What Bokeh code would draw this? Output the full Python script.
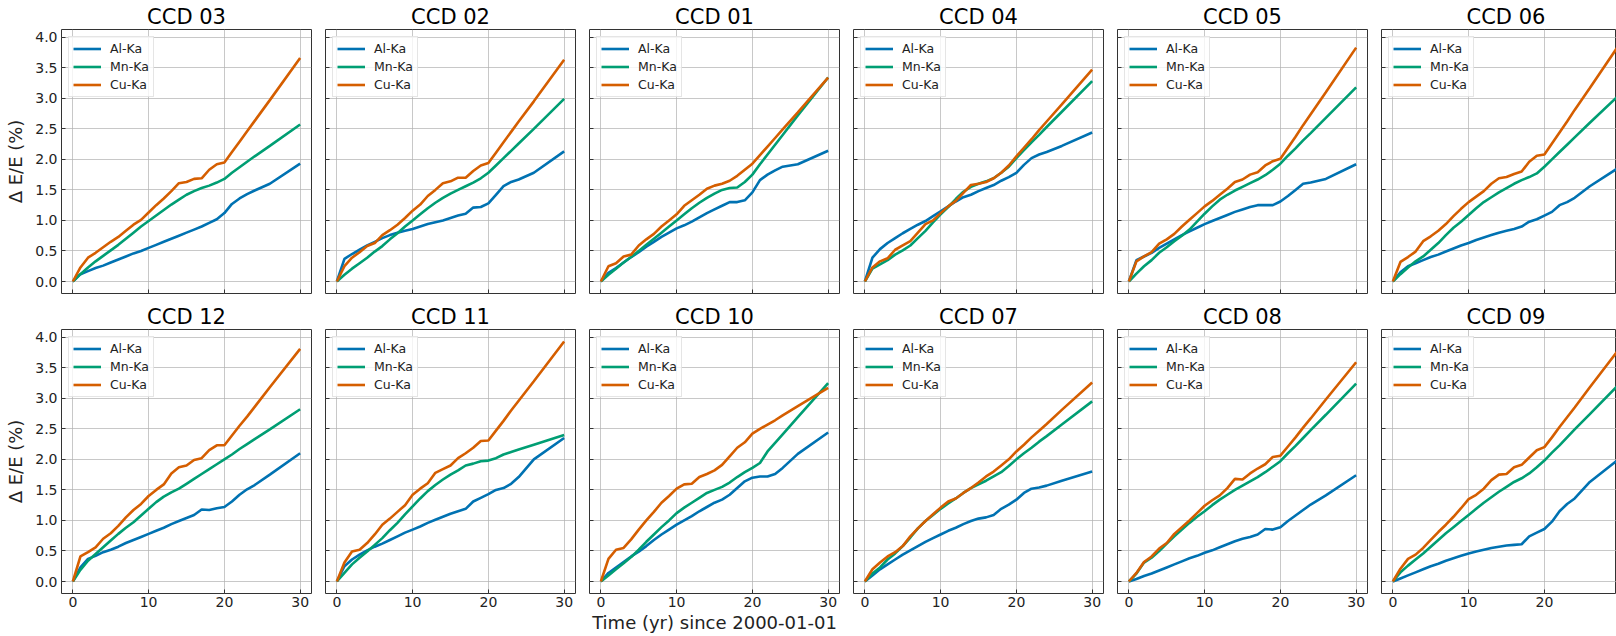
from bokeh.plotting import figure
from bokeh.layouts import row, column
from bokeh.models import (Legend, LegendItem, Range1d, FixedTicker, NumeralTickFormatter,
                          CustomLabelingPolicy)
from bokeh.embed import file_html
from bokeh.resources import INLINE

# ---------------- data ----------------
years = [0, 1, 2, 3, 4, 5, 6, 7, 8, 9, 10, 11, 12, 13, 14, 15, 16, 17, 18, 19, 20,
         21, 22, 23, 24, 26, 30]

top_row = ["03", "02", "01", "04", "05", "06"]
bottom_row = ["12", "11", "10", "07", "08", "09"]
lines = ["Al-Ka", "Mn-Ka", "Cu-Ka"]
colors = ["#0072B2", "#009E73", "#D55E00"]

al_03 = [0, .12, .17, .22, .26, .31, .36, .41, .46, .50, .55, .60, .65, .70, .75, .80, .85, .90, .96, 1.02, 1.12, 1.27, 1.36, 1.43, 1.49, 1.60, 1.93]
mn_03 = [0, .12, .23, .33, .42, .51, .60, .70, .80, .90, .99, 1.08, 1.17, 1.26, 1.34, 1.42, 1.48, 1.53, 1.57, 1.62, 1.68, 1.78, 1.87, 1.96, 2.05, 2.22, 2.57]
cu_03 = [0, .23, .39, .47, .56, .65, .73, .83, .93, 1.01, 1.13, 1.25, 1.36, 1.48, 1.61, 1.63, 1.68, 1.69, 1.83, 1.92, 1.95, 2.12, 2.29, 2.46, 2.63, 2.97, 3.66]

al_02 = [0, .37, .45, .52, .59, .65, .71, .76, .80, .83, .86, .90, .94, .97, 1.00, 1.04, 1.08, 1.11, 1.21, 1.22, 1.28, 1.42, 1.56, 1.63, 1.67, 1.78, 2.13]
mn_02 = [0, .11, .21, .30, .39, .49, .58, .69, .79, .90, 1.00, 1.10, 1.20, 1.29, 1.37, 1.44, 1.50, 1.56, 1.62, 1.69, 1.78, 1.90, 2.02, 2.14, 2.26, 2.50, 2.99]
cu_02 = [0, .25, .39, .48, .58, .63, .76, .84, .93, 1.04, 1.16, 1.26, 1.40, 1.50, 1.61, 1.64, 1.70, 1.70, 1.81, 1.90, 1.94, 2.11, 2.28, 2.45, 2.62, 2.95, 3.63]

al_01 = [0, .14, .22, .31, .40, .48, .57, .65, .73, .80, .87, .92, .98, 1.05, 1.12, 1.18, 1.24, 1.30, 1.30, 1.33, 1.46, 1.66, 1.75, 1.82, 1.88, 1.92, 2.14]
mn_01 = [0, .11, .21, .31, .40, .50, .60, .70, .80, .90, 1.00, 1.10, 1.20, 1.29, 1.37, 1.44, 1.50, 1.53, 1.54, 1.63, 1.75, 1.92, 2.08, 2.24, 2.40, 2.72, 3.34]
cu_01 = [0, .25, .30, .41, .44, .59, .69, .78, .90, 1.00, 1.10, 1.24, 1.33, 1.42, 1.52, 1.57, 1.60, 1.65, 1.73, 1.83, 1.93, 2.07, 2.21, 2.35, 2.49, 2.77, 3.34]

al_04 = [0, .39, .53, .63, .71, .79, .86, .93, .99, 1.07, 1.15, 1.23, 1.31, 1.38, 1.42, 1.48, 1.53, 1.58, 1.65, 1.71, 1.78, 1.91, 2.02, 2.08, 2.12, 2.22, 2.44]
mn_04 = [0, .21, .28, .35, .44, .51, .59, .71, .83, .97, 1.10, 1.22, 1.35, 1.47, 1.55, 1.60, 1.64, 1.69, 1.78, 1.88, 2.02, 2.15, 2.28, 2.40, 2.53, 2.78, 3.28]
cu_04 = [0, .23, .33, .38, .52, .59, .66, .80, .94, 1.00, 1.12, 1.23, 1.32, 1.45, 1.58, 1.60, 1.63, 1.69, 1.78, 1.90, 2.05, 2.19, 2.33, 2.48, 2.62, 2.90, 3.47]

al_05 = [0, .35, .41, .47, .55, .62, .69, .76, .82, .88, .94, .99, 1.04, 1.09, 1.14, 1.18, 1.22, 1.25, 1.25, 1.25, 1.31, 1.40, 1.50, 1.60, 1.62, 1.68, 1.92]
mn_05 = [0, .13, .25, .35, .47, .56, .66, .75, .85, .98, 1.11, 1.23, 1.34, 1.42, 1.49, 1.55, 1.61, 1.67, 1.74, 1.83, 1.93, 2.06, 2.18, 2.31, 2.43, 2.68, 3.18]
cu_05 = [0, .33, .41, .48, .62, .69, .78, .90, 1.01, 1.12, 1.23, 1.32, 1.42, 1.52, 1.63, 1.67, 1.75, 1.79, 1.90, 1.97, 2.01, 2.19, 2.37, 2.56, 2.74, 3.10, 3.83]

al_06 = [0, .15, .25, .30, .35, .40, .44, .49, .54, .59, .63, .68, .72, .76, .80, .83, .86, .90, .98, 1.02, 1.08, 1.14, 1.25, 1.30, 1.37, 1.56, 1.88]
mn_06 = [0, .12, .23, .33, .41, .52, .63, .76, .88, .98, 1.09, 1.20, 1.30, 1.38, 1.46, 1.53, 1.60, 1.66, 1.71, 1.77, 1.88, 2.00, 2.12, 2.24, 2.36, 2.60, 3.07]
cu_06 = [0, .32, .40, .49, .66, .74, .83, .94, 1.07, 1.19, 1.30, 1.39, 1.48, 1.60, 1.69, 1.71, 1.76, 1.80, 1.96, 2.06, 2.08, 2.26, 2.44, 2.62, 2.81, 3.17, 3.90]

al_12 = [0, .23, .37, .42, .48, .52, .57, .63, .68, .73, .78, .83, .88, .94, .99, 1.04, 1.09, 1.18, 1.17, 1.20, 1.22, 1.31, 1.42, 1.51, 1.58, 1.75, 2.10]
mn_12 = [0, .19, .34, .45, .56, .67, .78, .88, .97, 1.08, 1.19, 1.30, 1.39, 1.46, 1.52, 1.60, 1.68, 1.76, 1.84, 1.92, 2.00, 2.08, 2.17, 2.25, 2.33, 2.49, 2.82]
cu_12 = [0, .41, .48, .56, .70, .79, .91, 1.05, 1.17, 1.27, 1.40, 1.50, 1.59, 1.77, 1.87, 1.90, 1.99, 2.02, 2.15, 2.23, 2.23, 2.39, 2.55, 2.70, 2.86, 3.18, 3.81]

al_11 = [0, .25, .36, .44, .51, .57, .62, .68, .74, .80, .85, .90, .96, 1.01, 1.06, 1.11, 1.15, 1.19, 1.31, 1.37, 1.43, 1.50, 1.53, 1.60, 1.71, 2.00, 2.35]
mn_11 = [0, .14, .28, .39, .49, .60, .71, .84, .96, 1.10, 1.23, 1.36, 1.48, 1.58, 1.67, 1.75, 1.82, 1.90, 1.93, 1.97, 1.98, 2.02, 2.08, 2.12, 2.16, 2.24, 2.40]
cu_11 = [0, .31, .49, .52, .63, .77, .93, 1.03, 1.14, 1.25, 1.42, 1.52, 1.61, 1.78, 1.84, 1.90, 2.02, 2.10, 2.19, 2.30, 2.31, 2.47, 2.63, 2.80, 2.96, 3.28, 3.93]

al_10 = [0, .14, .23, .32, .41, .49, .58, .68, .77, .85, .93, 1.00, 1.07, 1.15, 1.22, 1.29, 1.34, 1.42, 1.53, 1.64, 1.70, 1.72, 1.72, 1.76, 1.86, 2.09, 2.44]
mn_10 = [0, .10, .20, .30, .40, .52, .65, .77, .89, 1.00, 1.12, 1.21, 1.29, 1.37, 1.45, 1.50, 1.55, 1.62, 1.71, 1.79, 1.86, 1.94, 2.13, 2.27, 2.41, 2.69, 3.25]
cu_10 = [0, .37, .52, .55, .69, .85, 1.00, 1.14, 1.29, 1.40, 1.52, 1.59, 1.60, 1.71, 1.76, 1.82, 1.91, 2.05, 2.19, 2.28, 2.42, 2.50, 2.57, 2.64, 2.72, 2.87, 3.17]

al_07 = [0, .10, .20, .28, .36, .44, .51, .58, .65, .71, .77, .83, .88, .94, .99, 1.03, 1.05, 1.09, 1.19, 1.26, 1.34, 1.45, 1.52, 1.54, 1.57, 1.65, 1.80]
mn_07 = [0, .13, .23, .36, .46, .58, .72, .87, .99, 1.09, 1.19, 1.28, 1.36, 1.45, 1.53, 1.59, 1.65, 1.72, 1.79, 1.89, 2.00, 2.10, 2.19, 2.29, 2.38, 2.57, 2.95]
cu_07 = [0, .20, .31, .41, .48, .58, .74, .87, .99, 1.10, 1.21, 1.31, 1.36, 1.45, 1.53, 1.62, 1.72, 1.80, 1.90, 2.00, 2.13, 2.24, 2.36, 2.47, 2.58, 2.81, 3.26]

al_08 = [0, .04, .09, .13, .18, .23, .28, .33, .38, .42, .47, .51, .56, .61, .66, .70, .73, .77, .86, .85, .89, .99, 1.08, 1.17, 1.26, 1.41, 1.74]
mn_08 = [0, .13, .31, .39, .50, .62, .74, .85, .96, 1.06, 1.15, 1.25, 1.34, 1.42, 1.50, 1.57, 1.64, 1.71, 1.79, 1.88, 1.97, 2.10, 2.22, 2.35, 2.48, 2.73, 3.24]
cu_08 = [0, .14, .32, .41, .54, .63, .78, .89, 1.00, 1.12, 1.24, 1.33, 1.41, 1.53, 1.68, 1.67, 1.77, 1.85, 1.92, 2.04, 2.06, 2.21, 2.36, 2.52, 2.67, 2.98, 3.59]

al_09 = [0, .05, .10, .15, .20, .25, .29, .34, .38, .42, .46, .49, .52, .55, .57, .59, .60, .61, .74, .80, .86, .98, 1.15, 1.27, 1.36, 1.63, 2.02]
mn_09 = [0, .15, .26, .36, .46, .57, .68, .79, .89, .99, 1.09, 1.19, 1.29, 1.38, 1.47, 1.55, 1.63, 1.69, 1.77, 1.87, 1.98, 2.11, 2.23, 2.36, 2.49, 2.74, 3.25]
cu_09 = [0, .21, .37, .44, .55, .68, .81, .93, 1.06, 1.20, 1.35, 1.42, 1.52, 1.66, 1.75, 1.76, 1.87, 1.91, 2.03, 2.15, 2.20, 2.36, 2.53, 2.69, 2.85, 3.18, 3.83]

series = {
    "03": [al_03, mn_03, cu_03], "02": [al_02, mn_02, cu_02], "01": [al_01, mn_01, cu_01],
    "04": [al_04, mn_04, cu_04], "05": [al_05, mn_05, cu_05], "06": [al_06, mn_06, cu_06],
    "12": [al_12, mn_12, cu_12], "11": [al_11, mn_11, cu_11], "10": [al_10, mn_10, cu_10],
    "07": [al_07, mn_07, cu_07], "08": [al_08, mn_08, cu_08], "09": [al_09, mn_09, cu_09],
}

x_ticks = [0, 10, 20, 30]
y_ticks = [0.0, 0.5, 1.0, 1.5, 2.0, 2.5, 3.0, 3.5, 4.0]
x_label = "Time (yr) since 2000-01-01"
y_label = "\u0394 E/E (%)"

FONT = "DejaVu Sans"
FRAME_W = 250
FRAME_H = 264
X0, X1 = -1.5, 31.5
Y0, Y1 = -0.1965, 4.1265

NO_LABELS = """
for (const i of Array.from(indices)) { indices.unset(i) }
return indices
"""


def make_panel(ccd, r, c):
    left = 61 if c == 0 else 7
    right = 0 if c == 5 else 7
    fw = 235 if c == 5 else FRAME_W
    x_end = X0 + (X1 - X0) * fw / FRAME_W
    top = 29 if r == 0 else 30
    bottom = 6 if r == 0 else 43
    p = figure(width=left + fw + right, height=top + FRAME_H + bottom,
               x_range=Range1d(X0, x_end), y_range=Range1d(Y0, Y1),
               output_backend="svg", toolbar_location=None,
               min_border_left=left, min_border_right=right,
               min_border_top=top, min_border_bottom=bottom,
               title="CCD " + ccd)
    p.title.text_font = FONT
    p.title.text_font_size = "21px"
    p.title.text_font_style = "normal"
    p.title.text_color = "#000000"
    p.title.standoff = 2
    if c == 5:
        p.title.align = "left"
        p.title.offset = 85
    else:
        p.title.align = "center"

    p.background_fill_color = "white"
    p.border_fill_color = "white"
    p.outline_line_color = "#333333"
    p.outline_line_width = 1

    for ax in (p.xaxis[0], p.yaxis[0]):
        ax.axis_line_color = None
        ax.major_tick_in = 4
        ax.major_tick_out = 0
        ax.major_tick_line_color = "#333333"
        ax.minor_tick_line_color = None
        ax.major_label_text_font = FONT
        ax.major_label_text_color = "#222222"
        ax.axis_label_text_font = FONT
        ax.axis_label_text_font_style = "normal"
        ax.axis_label_text_font_size = "18px"
        ax.axis_label_text_color = "#222222"

    p.xaxis.ticker = FixedTicker(ticks=x_ticks)
    p.yaxis.ticker = FixedTicker(ticks=y_ticks)
    p.yaxis.formatter = NumeralTickFormatter(format="0.0")

    if r == 1:
        p.xaxis.major_label_text_font_size = "14px"
        p.xaxis.major_label_standoff = 3
        if c == 2:
            p.xaxis.axis_label = x_label
            p.xaxis.axis_label_standoff = 2
    else:
        # shared x axis: ticks only, no labels (as in the reference)
        p.xaxis.major_label_text_font_size = "0px"
        p.xaxis.major_label_standoff = 0
        p.xaxis.major_label_policy = CustomLabelingPolicy(code=NO_LABELS)

    if c == 0:
        p.yaxis.major_label_text_font_size = "14px"
        p.yaxis.major_label_standoff = 4
        p.yaxis.axis_label = y_label
        p.yaxis.axis_label_standoff = 6
    else:
        # shared y axis: ticks only, no labels
        p.yaxis.major_label_text_font_size = "0px"
        p.yaxis.major_label_standoff = 0
        p.yaxis.major_label_policy = CustomLabelingPolicy(code=NO_LABELS)

    p.grid.grid_line_color = "#b0b0b0"
    p.grid.grid_line_alpha = 0.7
    p.grid.grid_line_width = 1

    items = []
    for name, col, ys in zip(lines, colors, series[ccd]):
        rr = p.line(years, ys, line_color=col, line_width=2.6)
        items.append(LegendItem(label=name, renderers=[rr]))
    leg = Legend(items=items, location="top_left", margin=7, padding=4,
                 spacing=3, glyph_width=28, glyph_height=15, label_height=15,
                 label_standoff=9, label_text_font=FONT,
                 label_text_font_size="12.5px", label_text_color="#222222",
                 border_line_color="#cccccc", border_line_width=1,
                 background_fill_color="white", background_fill_alpha=0.8)
    p.add_layout(leg)
    return p


rows = []
for r, names in enumerate([top_row, bottom_row]):
    rows.append(row(*[make_panel(n, r, c) for c, n in enumerate(names)]))

layout = column(*rows)
open("out.html", "w").write(file_html(layout, INLINE))
